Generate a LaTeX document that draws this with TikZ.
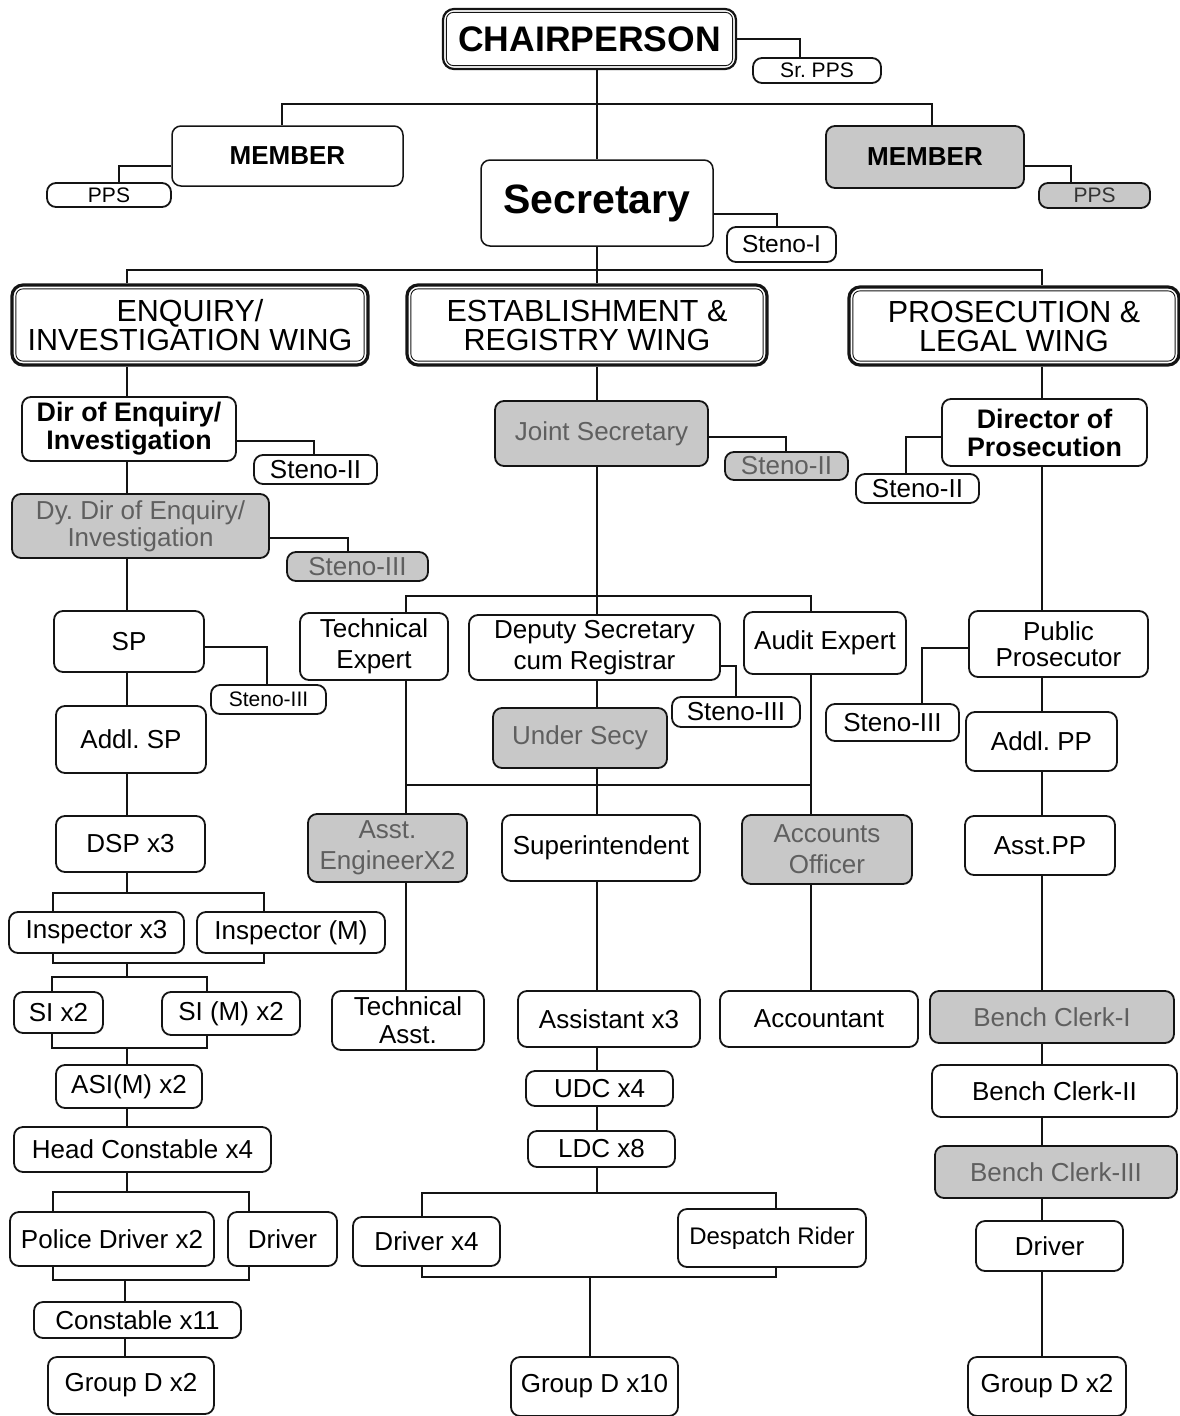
\documentclass[tikz,border=0pt]{standalone}
\usepackage{fontspec}
\setmainfont{Liberation Sans}
\definecolor{boxgrey}{RGB}{200,200,200}
\definecolor{greytext}{RGB}{95,95,95}
\definecolor{ink}{RGB}{20,20,20}
\newcommand\fs[2]{\fontsize{#1}{#2}\selectfont\frenchspacing}
\newcommand\bx[7][box]{\node[#1,minimum width={(#5-#3)*1pt},minimum height={(#6-#4)*1pt}] (#2) at ({(#3+#5)/2},{(#4+#6)/2}) {#7};}
\newcommand\innerframe[2]{\draw[line width=0.9pt,draw=ink,rounded corners=7pt] ([xshift=#2,yshift=-#2]#1.north west) rectangle ([xshift=-#2,yshift=#2]#1.south east);}
\begin{document}
\begin{tikzpicture}[x=1pt,y=-1pt,
  box/.style={draw=ink,line width=1.8pt,rounded corners=9pt,fill=white,align=center,inner sep=0pt,font=\fs{26}{31}},
  gbox/.style={box,fill=boxgrey,text=greytext},
  sm/.style={font=\fs{21}{24}},
  bld/.style={font=\fs{26.8}{28}\bfseries},
  wingbox/.style={box,line width=3.2pt,rounded corners=11pt,font=\fs{30.5}{29}},
  conn/.style={draw=ink,line width=1.8pt}]
\useasboundingbox (0,0) rectangle (1180,1416);
\fill[white] (0,0) rectangle (1180,1416);

% ---------- top ----------
\bx[box,line width=2.2pt,rounded corners=11pt,font=\fs{35.5}{36}\bfseries]{chair}{443}{9}{736}{69}{CHAIRPERSON}
\innerframe{chair}{4.5pt}
\bx[box,sm]{srpps}{753}{58}{881}{83}{Sr. PPS}
\bx[box,line width=1.5pt,font=\fs{26}{28}\bfseries]{memL}{172}{126}{403}{186}{MEMBER}
\bx[box,sm]{ppsL}{47}{183}{171}{207}{PPS}
\bx[box,fill=boxgrey,line width=1.8pt,font=\fs{26}{28}\bfseries]{memR}{826}{126}{1024}{188}{MEMBER}
\bx[box,fill=boxgrey,sm,text=black!80]{ppsR}{1039}{183}{1150}{208}{PPS}
\bx[box,line width=1.5pt,font=\fs{41}{44}\bfseries]{sec}{481}{160}{713}{246}{Secretary}
\bx[box,font=\fs{24.5}{28}]{steno1}{727}{227}{836}{262}{Steno-I}

% ---------- wings ----------
\bx[wingbox]{wingE}{12}{285}{368}{365}{ENQUIRY/\\INVESTIGATION WING}
\innerframe{wingE}{5.5pt}
\bx[wingbox]{wingR}{407}{285}{767}{365}{ESTABLISHMENT \&\\REGISTRY WING}
\innerframe{wingR}{5.5pt}
\bx[wingbox]{wingP}{849}{287}{1179}{365}{PROSECUTION \&\\LEGAL WING}
\innerframe{wingP}{5.5pt}

% ---------- left column ----------
\bx[box,bld]{dir}{22}{397}{236}{461}{Dir of Enquiry/\\Investigation}
\bx{steno2a}{254}{455}{377}{484}{Steno-II}
\bx[gbox,font=\fs{26}{27}]{dydir}{12}{494}{269}{558}{Dy. Dir of Enquiry/\\Investigation}
\bx[gbox]{steno3a}{287}{552}{428}{581}{Steno-III}
\bx{sp}{54}{611}{204}{672}{SP}
\bx[box,sm]{steno3b}{211}{685}{326}{714}{Steno-III}
\bx{addlsp}{56}{706}{206}{773}{Addl. SP}
\bx{dsp}{56}{816}{205}{872}{DSP x3}
\bx{insp}{9}{912}{184}{953}{Inspector x3}
\bx{inspm}{197}{912}{385}{953}{Inspector (M)}
\bx{si}{14}{992}{103}{1033}{SI x2}
\bx{sim}{162}{992}{300}{1035}{SI (M) x2}
\bx{asi}{56}{1065}{202}{1108}{ASI(M) x2}
\bx{hc}{14}{1127}{271}{1172}{Head Constable x4}
\bx{pdrv}{10}{1212}{214}{1266}{Police Driver x2}
\bx{drvL}{228}{1212}{337}{1266}{Driver}
\bx{const}{34}{1302}{241}{1338}{Constable x11}
\bx{gdL}{48}{1357}{214}{1414}{Group D x2}

% ---------- middle column ----------
\bx[gbox]{js}{495}{401}{708}{466}{Joint Secretary}
\bx[gbox]{steno2b}{725}{452}{848}{480}{Steno-II}
\bx{te}{300}{613}{448}{680}{Technical\\Expert}
\bx{dsr}{469}{615}{720}{680}{Deputy Secretary\\cum Registrar}
\bx{ae}{744}{612}{906}{674}{Audit Expert}
\bx{steno3c}{672}{697}{800}{727}{Steno-III}
\bx[gbox]{us}{493}{708}{667}{768}{Under Secy}
\bx[gbox]{aeng}{308}{814}{467}{882}{Asst.\\EngineerX2}
\bx{sup}{502}{815}{700}{881}{Superintendent}
\bx[gbox]{ao}{742}{815}{912}{884}{Accounts\\Officer}
\bx[box,font=\fs{26}{28}]{ta}{332}{991}{484}{1050}{Technical\\Asst.}
\bx{asst}{518}{991}{700}{1047}{Assistant x3}
\bx{acct}{720}{991}{918}{1047}{Accountant}
\bx{udc}{526}{1071}{673}{1106}{UDC x4}
\bx{ldc}{528}{1131}{675}{1167}{LDC x8}
\bx{drv4}{353}{1217}{500}{1266}{Driver x4}
\bx[box,font=\fs{24}{28}]{desp}{678}{1209}{866}{1267}{Despatch Rider}
\bx{gdM}{511}{1357}{678}{1416}{Group D x10}

% ---------- right column ----------
\bx[box,bld]{dp}{942}{399}{1147}{466}{Director of\\Prosecution}
\bx{steno2c}{856}{474}{979}{503}{Steno-II}
\bx[box,font=\fs{26}{26}]{pp}{969}{611}{1148}{677}{Public\\Prosecutor}
\bx{steno3d}{826}{704}{959}{741}{Steno-III}
\bx{addlpp}{966}{712}{1117}{771}{Addl. PP}
\bx{asstpp}{965}{816}{1115}{875}{Asst.PP}
\bx[gbox]{bc1}{930}{991}{1174}{1043}{Bench Clerk-I}
\bx{bc2}{932}{1065}{1177}{1117}{Bench Clerk-II}
\bx[gbox]{bc3}{935}{1146}{1177}{1198}{Bench Clerk-III}
\bx{drvR}{976}{1221}{1123}{1271}{Driver}
\bx{gdR}{968}{1357}{1126}{1416}{Group D x2}

% ---------- named junctions / column lines ----------
\coordinate (cL) at (127,0);
\coordinate (cM) at (597,0);
\coordinate (cR) at (1042,0);
\coordinate (xm1) at (282,0);
\coordinate (xm2) at (932,0);
\coordinate (bar0) at (597,104);
\coordinate (bar1) at (597,270);
\coordinate (xa) at (53,0);
\coordinate (xb) at (264,0);
\coordinate (xc) at (52,0);
\coordinate (xd) at (207,0);
\coordinate (xf) at (249,0);
\coordinate (j1) at (127,893);
\coordinate (j2) at (127,963);
\coordinate (j3) at (127,977);
\coordinate (j4) at (127,1048);
\coordinate (j5) at (127,1192);
\coordinate (j6) at (125,1280);
\coordinate (xT) at (406,0);
\coordinate (xA) at (811,0);
\coordinate (xg) at (422,0);
\coordinate (xh) at (776,0);
\coordinate (m1) at (597,596);
\coordinate (m2) at (597,785);
\coordinate (m3) at (597,1193);
\coordinate (m4) at (590,1277);

% ---------- connectors: top ----------
\draw[conn] (chair.east) -| ([xshift=-17pt]srpps.north);
\draw[conn] (cM |- chair.south) -- (cM |- sec.north);
\draw[conn] (xm1 |- memL.north) |- (bar0) -| (xm2 |- memR.north);
\draw[conn] ([yshift=-10pt]memL.west) -| ([xshift=10pt]ppsL.north);
\draw[conn] ([yshift=-9pt]memR.east) -| ([xshift=-23.5pt]ppsR.north);
\draw[conn] ([yshift=-11pt]sec.east) -| ([xshift=-4.5pt]steno1.north);
\draw[conn] (sec.south) -- (bar1);
\draw[conn] (cL |- wingE.north) |- (bar1) -| (cR |- wingP.north);
\draw[conn] (bar1) -- (cM |- wingR.north);

% ---------- connectors: left ----------
\draw[conn] (cL |- wingE.south) -- (cL |- dir.north);
\draw[conn] (cL |- dir.south) -- (cL |- dydir.north);
\draw[conn] ([yshift=-12pt]dir.east) -| ([xshift=-1.5pt]steno2a.north);
\draw[conn] ([yshift=-12pt]dydir.east) -| ([xshift=-9.5pt]steno3a.north);
\draw[conn] (cL |- dydir.south) -- (cL |- sp.north);
\draw[conn] ([yshift=-5.5pt]sp.east) -| ([xshift=-1.5pt]steno3b.north);
\draw[conn] (cL |- sp.south) -- (cL |- addlsp.north);
\draw[conn] (cL |- addlsp.south) -- (cL |- dsp.north);
\draw[conn] (cL |- dsp.south) -- (j1);
\draw[conn] (xa |- insp.north) |- (j1) -| (xb |- inspm.north);
\draw[conn] (xa |- insp.south) |- (j2) -| (xb |- inspm.south);
\draw[conn] (j2) -- (j3);
\draw[conn] (xc |- si.north) |- (j3) -| (xd |- sim.north);
\draw[conn] (xc |- si.south) |- (j4) -| (xd |- sim.south);
\draw[conn] (j4) -- (cL |- asi.north);
\draw[conn] (cL |- asi.south) -- (cL |- hc.north);
\draw[conn] (cL |- hc.south) -- (j5);
\draw[conn] (xa |- pdrv.north) |- (j5) -| (xf |- drvL.north);
\draw[conn] (xa |- pdrv.south) |- (j6) -| (xf |- drvL.south);
\draw[conn] (j6) -- (j6 |- const.north);
\draw[conn] (j6 |- const.south) -- (j6 |- gdL.north);

% ---------- connectors: middle ----------
\draw[conn] (cM |- wingR.south) -- (cM |- js.north);
\draw[conn] ([yshift=-3.5pt]js.east) -| ([xshift=-0.5pt]steno2b.north);
\draw[conn] (cM |- js.south) -- (m1);
\draw[conn] (xT |- te.north) |- (m1) -| (xA |- ae.north);
\draw[conn] (m1) -- (cM |- dsr.north);
\draw[conn] ([yshift=-18.5pt]dsr.east) -| (steno3c.north);
\draw[conn] (cM |- dsr.south) -- (cM |- us.north);
\draw[conn] (cM |- us.south) -- (cM |- sup.north);
\draw[conn] (xT |- m2) -- (xA |- m2);
\draw[conn] (xT |- te.south) -- (xT |- aeng.north);
\draw[conn] (xT |- aeng.south) -- (xT |- ta.north);
\draw[conn] (xA |- ae.south) -- (xA |- ao.north);
\draw[conn] (xA |- ao.south) -- (xA |- acct.north);
\draw[conn] (cM |- sup.south) -- (cM |- asst.north);
\draw[conn] (cM |- asst.south) -- (cM |- udc.north);
\draw[conn] (cM |- udc.south) -- (cM |- ldc.north);
\draw[conn] (cM |- ldc.south) -- (m3);
\draw[conn] (xg |- drv4.north) |- (m3) -| (xh |- desp.north);
\draw[conn] (xg |- drv4.south) |- (m4) -| (xh |- desp.south);
\draw[conn] (m4) -- (m4 |- gdM.north);

% ---------- connectors: right ----------
\draw[conn] (cR |- wingP.south) -- (cR |- dp.north);
\draw[conn] ([yshift=-4.5pt]dp.west) -| ([xshift=-11.5pt]steno2c.north);
\draw[conn] (cR |- dp.south) -- (cR |- pp.north);
\draw[conn] ([yshift=-4pt]pp.west) -| ([xshift=29.5pt]steno3d.north);
\draw[conn] (cR |- pp.south) -- (cR |- addlpp.north);
\draw[conn] (cR |- addlpp.south) -- (cR |- asstpp.north);
\draw[conn] (cR |- asstpp.south) -- (cR |- bc1.north);
\draw[conn] (cR |- bc1.south) -- (cR |- bc2.north);
\draw[conn] (cR |- bc2.south) -- (cR |- bc3.north);
\draw[conn] (cR |- bc3.south) -- (cR |- drvR.north);
\draw[conn] (cR |- drvR.south) -- (cR |- gdR.north);
\end{tikzpicture}
\end{document}
